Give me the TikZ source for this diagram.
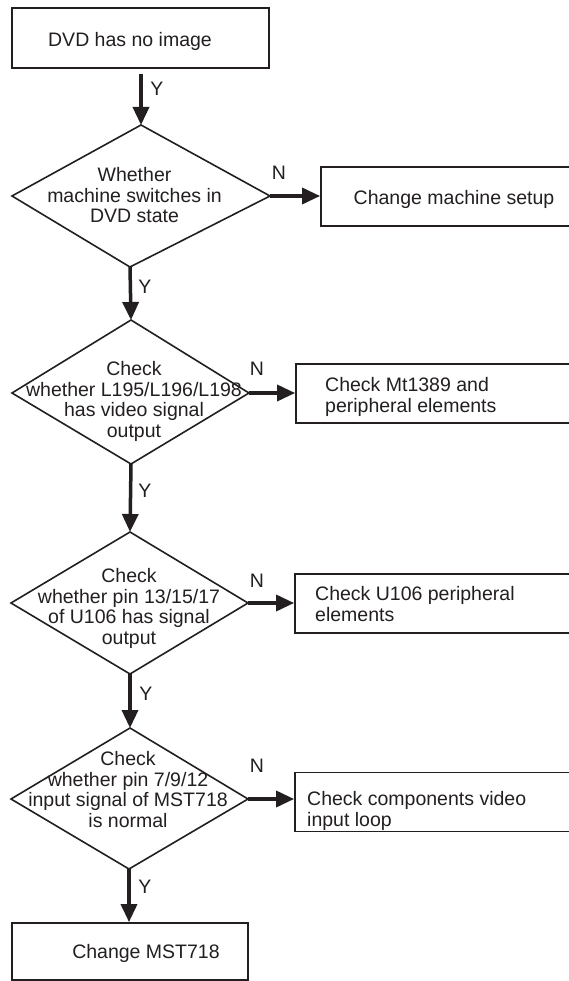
\documentclass[tikz,border=0pt]{standalone}
\usepackage{fontspec}
\setmainfont{Liberation Sans}
\usetikzlibrary{arrows.meta}
\definecolor{ink}{HTML}{231F20}
\tikzset{
  box/.style={draw=ink, line width=1.8pt, rectangle, inner sep=0pt},
  dia/.style={draw=ink, line width=1.6pt, line join=miter},
  lbl/.style={font=\fontsize{19.5}{20.7}\selectfont, text=ink, inner sep=0pt},
  arr/.style={draw=ink, line width=3.5pt, -{Triangle[length=18pt,width=16pt]}},
}
\begin{document}
\begin{tikzpicture}[x=1pt,y=1pt]
\useasboundingbox (0,0) rectangle (569,-981);
\clip (0,0) rectangle (569,-981);
\fill[white] (0,0) rectangle (569,-981);

% boxes
\node[box, minimum width=257pt, minimum height=60pt] (b0) at (140.5,-38) {};
\node[box, minimum width=259pt, minimum height=59pt] (b1) at (450.5,-196.5) {};
\node[box, minimum width=284pt, minimum height=59pt] (b2) at (438,-393.5) {};
\node[box, minimum width=285pt, minimum height=59pt] (b3) at (437.5,-603.5) {};
\node[box, minimum width=285pt, minimum height=59pt] (b4) at (437.5,-802) {};
\node[box, minimum width=236pt, minimum height=57pt] (b5) at (130,-951.5) {};

% diamonds
\coordinate (d1t) at (141,-125); \coordinate (d1r) at (270,-196);
\coordinate (d1b) at (130,-267); \coordinate (d1l) at (12,-196);
\coordinate (d2t) at (131,-320); \coordinate (d2r) at (249,-393);
\coordinate (d2b) at (131,-464); \coordinate (d2l) at (12,-393);
\coordinate (d3t) at (130,-532); \coordinate (d3r) at (248,-603);
\coordinate (d3b) at (130,-674); \coordinate (d3l) at (11,-603);
\coordinate (d4t) at (130,-728); \coordinate (d4r) at (248,-799);
\coordinate (d4b) at (129,-869); \coordinate (d4l) at (11,-799);
\draw[dia] (d1t) -- (d1r) -- (d1b) -- (d1l) -- cycle;
\draw[dia] (d2t) -- (d2r) -- (d2b) -- (d2l) -- cycle;
\draw[dia] (d3t) -- (d3r) -- (d3b) -- (d3l) -- cycle;
\draw[dia] (d4t) -- (d4r) -- (d4b) -- (d4l) -- cycle;

% texts
\node[lbl, anchor=base] (t0) at (130,-47) {DVD has no image};
\node[lbl, anchor=base] (t1) at (454,-205) {Change machine setup};
\node[lbl, anchor=north west, align=left] (t2) at (325,-377) {Check Mt1389 and\\peripheral elements};
\node[lbl, anchor=north west, align=left] (t3) at (315,-586) {Check U106 peripheral\\elements};
\node[lbl, anchor=north west, align=left] (t4) at (307,-791) {Check components video\\input loop};
\node[lbl, anchor=base] (t5) at (146,-958) {Change MST718};

\node[lbl, anchor=north, align=center] (q1) at (134.5,-167) {Whether\\machine switches in\\DVD state};
\node[lbl, anchor=north, align=center] (q2) at (134,-361) {Check\\whether L195/L196/L198\\has video signal\\output};
\node[lbl, anchor=north, align=center] (q3) at (129,-568) {Check\\whether pin 13/15/17\\of U106 has signal\\output};
\node[lbl, anchor=north, align=center] (q4) at (128,-751) {Check\\whether pin 7/9/12\\input signal of MST718\\is normal};

% connectors
\draw[arr, shorten <=5pt] (b0.south -| d1t) -- (d1t);
\draw[arr] (d1b) -- (d2t);
\draw[arr] (d2b) -- (d3t);
\draw[arr] (d3b) -- (d4t);
\draw[arr] (d4b) -- (b5.north -| d4b);
\draw[arr] (d1r) -- (d1r -| b1.west);
\draw[arr] (d2r) -- (d2r -| b2.west);
\draw[arr] (d3r) -- (d3r -| b3.west);
\draw[arr] (d4r) -- (d4r -| b4.west);

% Y / N labels
\node[lbl, anchor=base] (y1) at (157,-96) {Y};
\node[lbl, anchor=base] (y2) at (145,-293) {Y};
\node[lbl, anchor=base] (y3) at (145,-497) {Y};
\node[lbl, anchor=base] (y4) at (146,-700) {Y};
\node[lbl, anchor=base] (y5) at (145,-893) {Y};
\node[lbl, anchor=base] (n1) at (279,-180) {N};
\node[lbl, anchor=base] (n2) at (257,-375) {N};
\node[lbl, anchor=base] (n3) at (257,-587) {N};
\node[lbl, anchor=base] (n4) at (257,-772) {N};
\end{tikzpicture}
\end{document}
